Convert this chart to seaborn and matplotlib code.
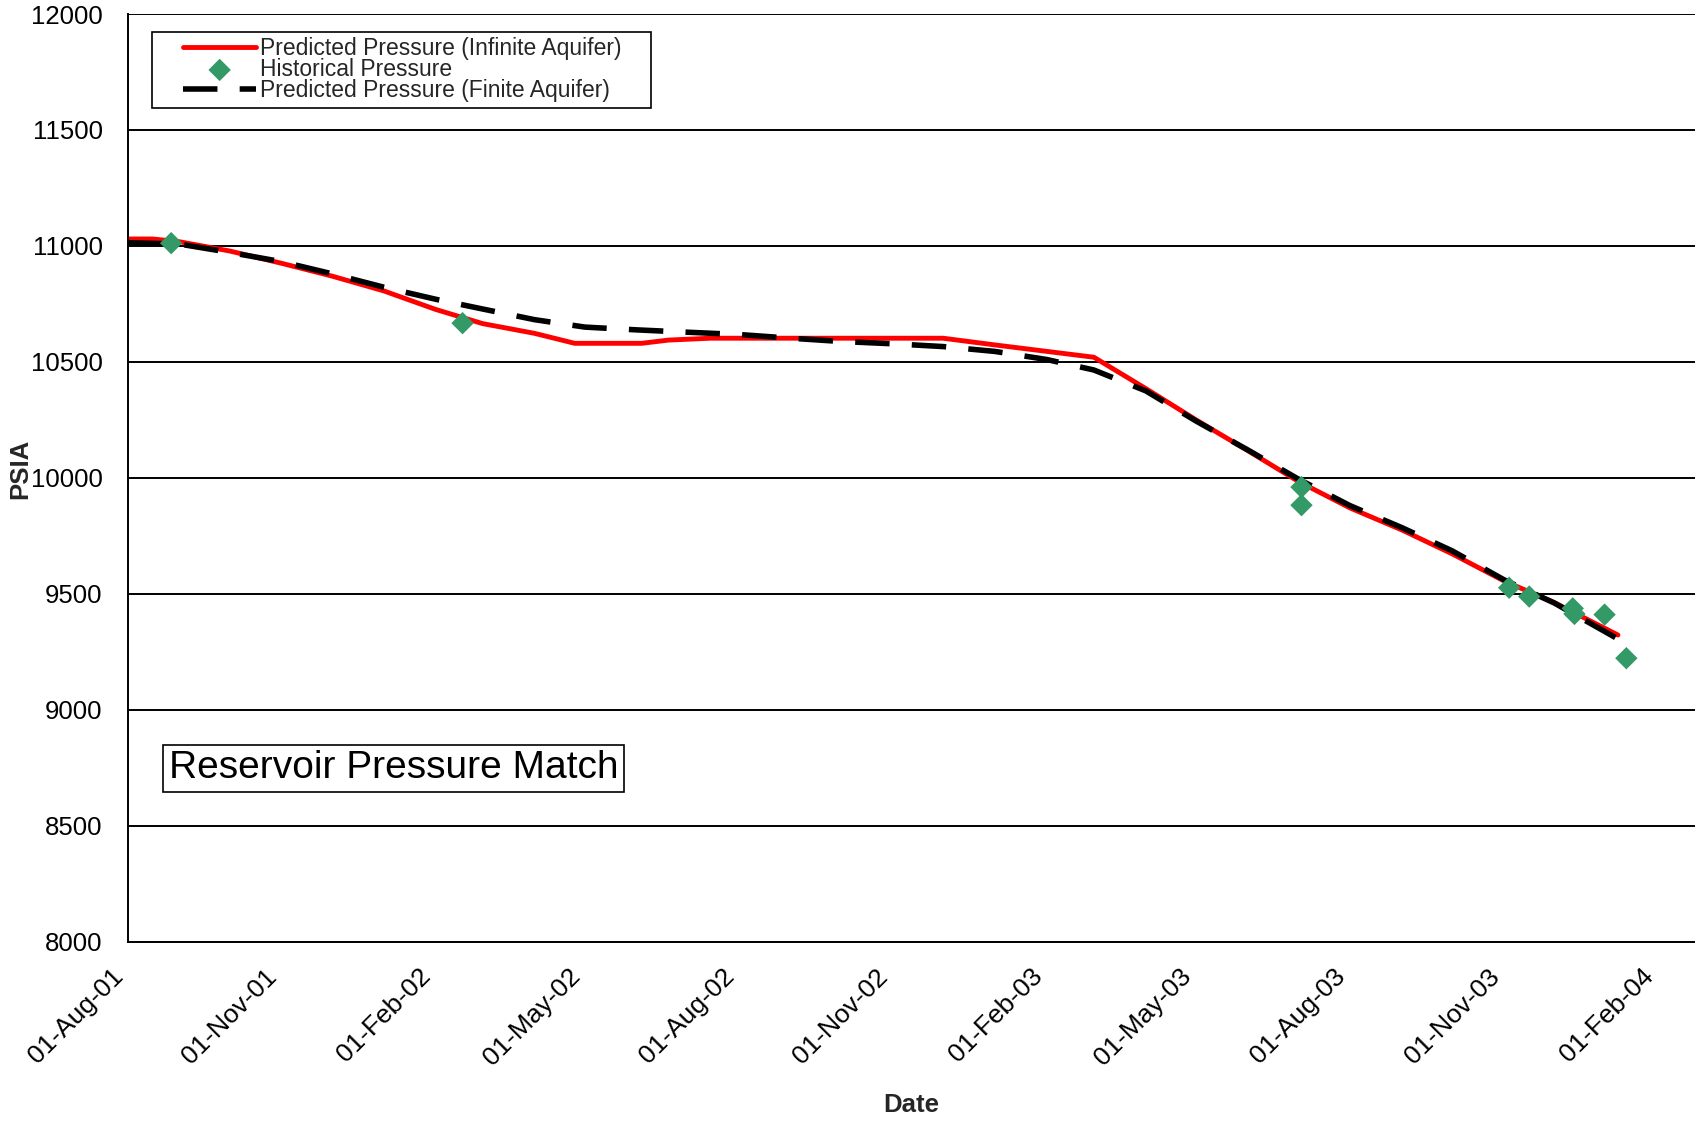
import pandas as pd
import matplotlib
matplotlib.use("Agg")
import matplotlib.pyplot as plt
import matplotlib.dates as mdates
from matplotlib.patches import Rectangle
import seaborn as sns

# Predicted pressure, infinite aquifer (red line)
inf_dates = ["2001-08-01", "2001-08-16", "2001-09-01", "2001-10-01", "2001-11-01",
             "2001-12-01", "2002-01-01", "2002-02-01", "2002-03-01", "2002-04-01",
             "2002-04-25", "2002-06-04", "2002-06-20", "2002-07-15", "2002-12-01",
             "2003-01-01", "2003-03-01", "2003-04-01", "2003-05-01", "2003-06-01",
             "2003-07-01", "2003-08-01", "2003-09-01", "2003-10-01", "2003-11-01",
             "2003-12-01", "2004-01-08"]
inf_psia = [11030, 11030, 11018, 10978, 10925,
            10870, 10806, 10726, 10665, 10623,
            10580, 10580, 10594, 10602, 10602,
            10573, 10520, 10385, 10250, 10117,
            9985, 9870, 9775, 9672, 9555,
            9462, 9322]

# Predicted pressure, finite aquifer (black dashed)
fin_dates = ["2001-08-01", "2001-09-01", "2001-10-01", "2001-11-01", "2001-12-01",
             "2002-01-01", "2002-02-01", "2002-03-01", "2002-04-01", "2002-05-01",
             "2002-06-01", "2002-07-01", "2002-08-01", "2002-09-01", "2002-10-01",
             "2002-11-01", "2002-12-01", "2003-01-01", "2003-02-01", "2003-03-01",
             "2003-04-01", "2003-05-01", "2003-06-01", "2003-07-01", "2003-08-01",
             "2003-09-01", "2003-10-01", "2003-11-01", "2003-12-01", "2004-01-08"]
fin_psia = [11014, 11008, 10972, 10932, 10880,
            10822, 10770, 10728, 10682, 10650,
            10638, 10628, 10618, 10602, 10588,
            10578, 10566, 10545, 10510, 10465,
            10375, 10245, 10120, 9995, 9880,
            9785, 9685, 9560, 9460, 9305]

# Historical pressure measurements (green diamonds)
hist_dates = ["2001-08-27", "2002-02-17", "2003-07-03", "2003-07-03", "2003-11-04",
              "2003-11-16", "2003-12-12", "2003-12-13", "2003-12-31", "2004-01-13"]
hist_psia = [11012, 10667, 9960, 9882, 9526,
             9488, 9437, 9413, 9410, 9222]

lbl_inf = "Predicted Pressure (Infinite Aquifer)"
lbl_hist = "Historical Pressure"
lbl_fin = "Predicted Pressure (Finite Aquifer)"

inf = pd.DataFrame({"Date": pd.to_datetime(inf_dates), "PSIA": inf_psia})
fin = pd.DataFrame({"Date": pd.to_datetime(fin_dates), "PSIA": fin_psia})
hist = pd.DataFrame({"Date": pd.to_datetime(hist_dates), "PSIA": hist_psia})

sns.set_style("white")
plt.rcParams["font.family"] = ["Liberation Sans", "DejaVu Sans"]

fig = plt.figure(figsize=(16.95, 11.24), dpi=100)
ax = fig.add_axes([0.0753, 0.1623, 0.9247, 0.8252])

sns.lineplot(data=inf, x="Date", y="PSIA", color="#ff0000", lw=3.5,
             label=lbl_inf, ax=ax, zorder=2)
sns.lineplot(data=fin, x="Date", y="PSIA", color="black", lw=4,
             linestyle=(0, (6.2, 4)), label=lbl_fin, ax=ax, zorder=3)
sns.scatterplot(data=hist, x="Date", y="PSIA", marker="D", color="#339966",
                edgecolor="none", s=130, label=lbl_hist, ax=ax, zorder=4)

# axes limits and ticks
ax.set_xlim(pd.Timestamp("2001-08-01"), pd.Timestamp("2004-02-23"))
ax.set_ylim(8000, 12000)
ax.xaxis.set_major_locator(mdates.MonthLocator(bymonth=[2, 5, 8, 11]))
ax.xaxis.set_minor_locator(mdates.MonthLocator())
ax.xaxis.set_major_formatter(mdates.DateFormatter("%d-%b-%y"))
ax.set_yticks(range(8000, 12001, 500))
ax.set_yticks(range(8000, 12001, 100), minor=True)

ax.grid(axis="y", which="major", color="black", lw=1.4)
ax.grid(axis="x", visible=False)
for side in ["top", "right"]:
    ax.spines[side].set_visible(False)
for side in ["left", "bottom"]:
    ax.spines[side].set_color("black")
    ax.spines[side].set_linewidth(1.4)

ax.tick_params(axis="y", which="major", direction="out", length=7, width=1.3,
               pad=11, labelsize=18.5, colors="black")
ax.tick_params(axis="y", which="minor", direction="in", length=3, width=1.3,
               colors="black")
ax.tick_params(axis="x", which="major", direction="out", length=7.5, width=1.3,
               pad=21, labelsize=19, colors="black", labelrotation=45)
ax.tick_params(axis="x", which="minor", direction="in", length=3, width=1.3,
               colors="black")
for lab in ax.get_xticklabels():
    lab.set_ha("right")
    lab.set_va("bottom")
    lab.set_rotation_mode("anchor")

ax.set_xlabel("Date", fontsize=18.5, fontweight="bold")
ax.set_ylabel("PSIA", fontsize=18.5, fontweight="bold")
ax.xaxis.set_label_coords(0.5, -0.163)
ax.yaxis.set_label_coords(-0.061, 0.51)

# legend in fixed order, with its own frame
handles, labels = ax.get_legend_handles_labels()
order = [labels.index(lbl_inf), labels.index(lbl_hist), labels.index(lbl_fin)]
leg = ax.legend([handles[i] for i in order], [labels[i] for i in order],
                loc="upper left", bbox_to_anchor=(0.0353, 0.975),
                frameon=False, fontsize=16.5, handlelength=3.2,
                handletextpad=0.15, labelspacing=-0.1, borderpad=0,
                borderaxespad=0, scatterpoints=1)
leg.set_zorder(6)
ax.add_patch(Rectangle((0.0154, 0.8984), 0.3185, 0.0826, transform=ax.transAxes,
                       facecolor="white", edgecolor="black", lw=1.2, zorder=5))

ax.text(0.1696, 0.1866, "Reservoir Pressure Match", transform=ax.transAxes,
        ha="center", va="center", fontsize=28, color="black", zorder=6,
        bbox=dict(boxstyle="square,pad=0.14", fc="white", ec="black", lw=1.2))

fig.savefig("out.png", dpi=100)
